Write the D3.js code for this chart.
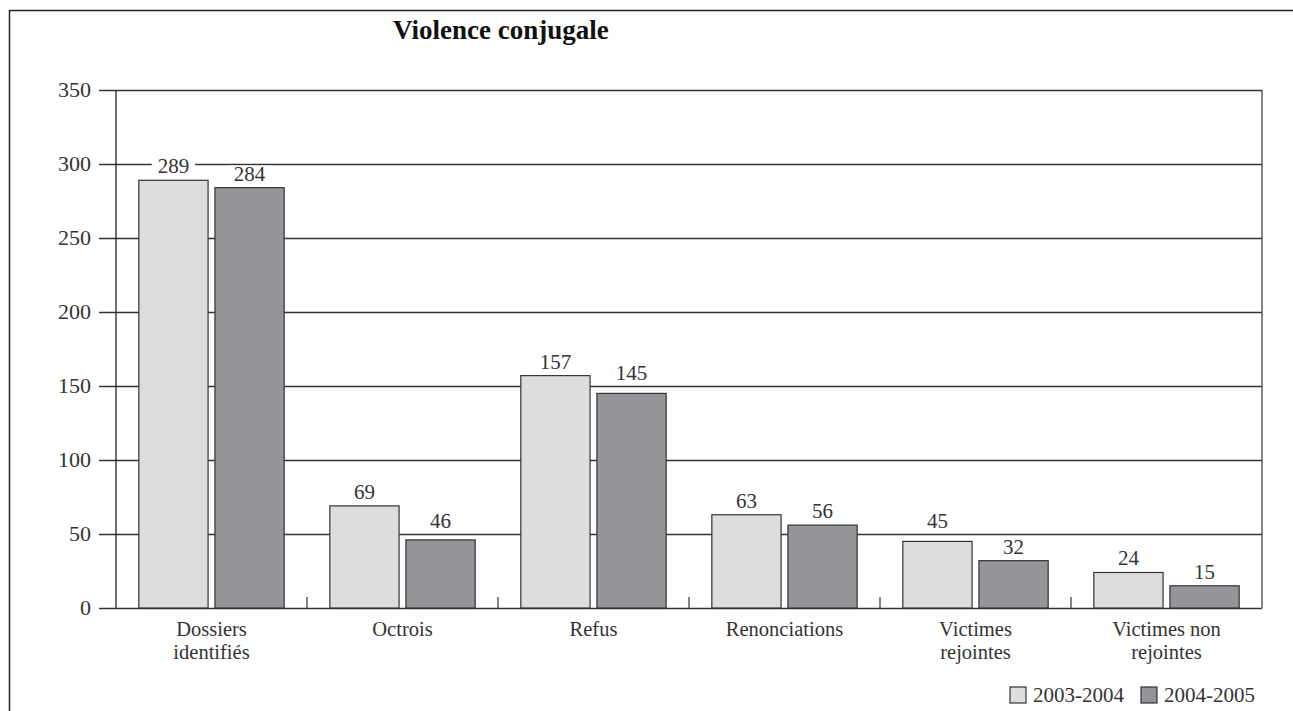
<!DOCTYPE html>
<html>
<head>
<meta charset="utf-8">
<script src="https://cdn.jsdelivr.net/npm/d3@7"></script>
<style>
  html, body { margin: 0; padding: 0; background: #fff; }
</style>
</head>
<body>
<svg id="chart" width="1293" height="711"></svg>
<script>
// données du graphique
const categories = [['Dossiers', 'identifiés'], ['Octrois'], ['Refus'], ['Renonciations'], ['Victimes', 'rejointes'], ['Victimes non', 'rejointes']];
const series = ['2003-2004', '2004-2005'];
const values2003 = [289, 69, 157, 63, 45, 24];
const values2004 = [284, 46, 145, 56, 32, 15];
const yTicks = [0, 50, 100, 150, 200, 250, 300, 350];
const colors = ['#dcdddf', '#939598'];

(function () {
    'use strict';

    const FONT = "'Liberation Serif', 'DejaVu Serif', serif";
    const svg = d3.select('#chart')
        .attr('font-family', FONT);
    const left = 116, right = 1262, top = 90, bottom = 608;

    // cadre extérieur (gauche + haut)
    svg.append('path')
        .attr('d', 'M9.5,711 L9.5,10.5 L1293,10.5')
        .attr('fill', 'none')
        .attr('stroke', '#222')
        .attr('stroke-width', 1.5);

    svg.append('text')
        .attr('x', 393)
        .attr('y', 39)
        .attr('font-family', FONT)
        .attr('font-size', 27)
        .attr('font-weight', 'bold')
        .attr('fill', '#111')
        .text('Violence conjugale');

    const keys = categories.map(c => c.join(' '));
    const x0 = d3.scaleBand().domain(keys).range([left, right]).padding(0);
    const x1 = d3.scaleBand().domain(series).range([0, x0.bandwidth()])
        .paddingInner(0.09).paddingOuter(0.3);
    const y = d3.scaleLinear().domain([0, 350]).range([bottom, top]);

    // grille + étiquettes Y
    const yAxis = svg.append('g')
        .attr('transform', 'translate(99,0)')
        .call(d3.axisLeft(y).tickValues(yTicks).tickSize(-(right - 99)).tickPadding(8));
    yAxis.attr('font-family', FONT).attr('font-size', 22);
    yAxis.select('.domain').remove();
    yAxis.selectAll('.tick line').attr('stroke', '#333').attr('stroke-width', 1.3);
    yAxis.selectAll('.tick text')
        .attr('fill', '#333')
        .attr('dy', '0.3em');

    // axes
    svg.append('line').attr('x1', left).attr('x2', left).attr('y1', top).attr('y2', bottom)
        .attr('stroke', '#222').attr('stroke-width', 1.3);
    svg.append('line').attr('x1', right).attr('x2', right).attr('y1', top).attr('y2', bottom)
        .attr('stroke', '#444').attr('stroke-width', 1.3);

    // petits repères entre catégories
    svg.append('g').selectAll('line')
        .data(keys.slice(1))
        .join('line')
        .attr('x1', d => x0(d)).attr('x2', d => x0(d))
        .attr('y1', bottom - 11).attr('y2', bottom)
        .attr('stroke', '#333').attr('stroke-width', 1.2);

    const rows = keys.map((k, i) => ({ key: k, vals: [values2003[i], values2004[i]] }));

    const groups = svg.append('g').selectAll('g')
        .data(rows)
        .join('g')
        .attr('transform', d => `translate(${x0(d.key)},0)`);

    groups.selectAll('rect')
        .data(d => d.vals.map((v, j) => ({ s: series[j], v, j })))
        .join('rect')
        .attr('x', d => x1(d.s))
        .attr('y', d => y(d.v))
        .attr('width', x1.bandwidth())
        .attr('height', d => bottom - y(d.v))
        .attr('fill', d => colors[d.j])
        .attr('stroke', '#333')
        .attr('stroke-width', 1.2);

    // étiquettes de valeurs (fond blanc qui coupe la grille)
    const gridY = yTicks.map(t => y(t));
    groups.each(function (d) {
        const g = d3.select(this);
        d.vals.forEach((v, j) => {
            let base = y(v) - 7;
            const hit = gridY.find(gy => gy >= base - 3 && gy <= base + 4);
            if (hit !== undefined) base = hit - 6;
            const cx = x1(series[j]) + x1.bandwidth() / 2;
            const bg = g.append('rect').attr('fill', '#fff');
            const t = g.append('text')
                .attr('x', cx)
                .attr('y', base)
                .attr('text-anchor', 'middle')
                .attr('font-family', FONT)
                .attr('font-size', 21)
                .attr('fill', '#333')
                .text(v);
            const w = t.node().getComputedTextLength();
            bg.attr('x', cx - w / 2 - 6).attr('width', w + 12)
                .attr('y', base - 15).attr('height', 17);
        });
    });

    // libellés des catégories
    svg.append('g').selectAll('text')
        .data(categories)
        .join('text')
        .attr('x', (d, i) => x0(keys[i]) + x0.bandwidth() / 2)
        .attr('y', 636)
        .attr('text-anchor', 'middle')
        .attr('font-family', FONT)
        .attr('font-size', 20.5)
        .attr('fill', '#333')
        .selectAll('tspan')
        .data(d => d)
        .join('tspan')
        .attr('x', function () { return this.parentNode.getAttribute('x'); })
        .attr('dy', (d, i) => i === 0 ? 0 : 22.5)
        .text(d => d);

    // légende
    const legendX = [1010, 1141];
    const legend = svg.append('g').selectAll('g')
        .data(series)
        .join('g')
        .attr('transform', (d, i) => `translate(${legendX[i]},687)`);
    legend.append('rect')
        .attr('width', 16).attr('height', 16)
        .attr('fill', (d, i) => colors[i])
        .attr('stroke', '#333').attr('stroke-width', 1.2);
    legend.append('text')
        .attr('x', 23).attr('y', 15)
        .attr('font-family', FONT)
        .attr('font-size', 21)
        .attr('fill', '#333')
        .text(d => d);
})();
</script>
</body>
</html>
